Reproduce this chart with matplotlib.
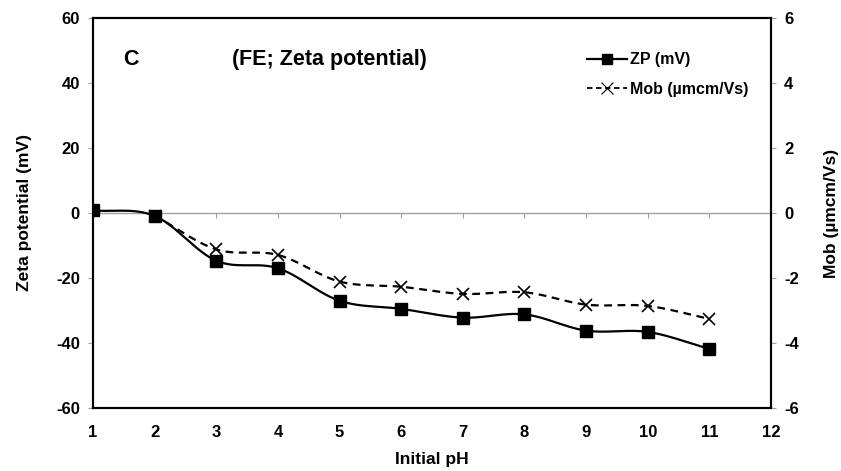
import numpy as np
import matplotlib
matplotlib.use("Agg")
import matplotlib.pyplot as plt
from matplotlib.lines import Line2D

plt.rcParams['font.family'] = ['Liberation Sans', 'DejaVu Sans']
plt.rcParams['font.weight'] = 'bold'
plt.rcParams['axes.unicode_minus'] = False

# initial pH vs zeta potential / electrophoretic mobility
ph_zp = [1, 2, 3, 4, 5, 6, 7, 8, 9, 10, 11]
zp_mv = [0.8, -0.9, -14.7, -17.0, -27.0, -29.5, -32.2, -31.2, -36.2, -36.6, -41.8]

ph_mob = [2, 3, 4, 5, 6, 7, 8, 9, 10, 11]
mob = [-0.08, -1.12, -1.29, -2.11, -2.27, -2.49, -2.44, -2.82, -2.86, -3.26]


def smooth(x, y, n=30):
    # Catmull-Rom style curve through every point (spreadsheet "smoothed line")
    x = np.asarray(x, float)
    y = np.asarray(y, float)
    px = np.concatenate([[2 * x[0] - x[1]], x, [2 * x[-1] - x[-2]]])
    py = np.concatenate([[2 * y[0] - y[1]], y, [2 * y[-1] - y[-2]]])
    xs, ys = [], []
    t = np.linspace(0, 1, n)
    for i in range(1, len(px) - 2):
        p0, p1, p2, p3 = [np.array([px[j], py[j]]) for j in range(i - 1, i + 3)]
        c1 = p1 + (p2 - p0) / 6
        c2 = p2 - (p3 - p1) / 6
        b = ((1 - t) ** 3)[:, None] * p1 + (3 * (1 - t) ** 2 * t)[:, None] * c1 \
            + (3 * (1 - t) * t ** 2)[:, None] * c2 + (t ** 3)[:, None] * p2
        xs.append(b[:, 0])
        ys.append(b[:, 1])
    return np.concatenate(xs), np.concatenate(ys)


fig = plt.figure(figsize=(8.41, 4.71), dpi=100)
ax = fig.add_axes([0.1106, 0.1338, 0.8062, 0.828])
ax2 = ax.twinx()

ax.set_xlim(1, 12)
ax.set_ylim(-60, 60)
ax2.set_ylim(-6, 6)

# zero line with category ticks hanging below it
ax.axhline(0, color='#a0a0a0', lw=1.0, zorder=1)
zero_axis = ax.secondary_xaxis(0.5)
zero_axis.spines['bottom'].set_visible(False)
zero_axis.spines['top'].set_visible(False)
zero_axis.set_xticks(range(1, 13))
zero_axis.xaxis.set_ticks_position('bottom')
zero_axis.tick_params(direction='out', length=3.5, color='#a0a0a0',
                      labelbottom=False, labeltop=False)

sx, sy = smooth(ph_zp, zp_mv)
ax.plot(sx, sy, color='black', lw=1.6, zorder=3)
ax.plot(ph_zp, zp_mv, ls='none', marker='s', ms=8.5, color='black', zorder=4)

mx, my = smooth(ph_mob, mob)
ax2.plot(mx, my, color='black', lw=1.6, ls=(0, (3.5, 2.5)), zorder=3)
ax2.plot(ph_mob, mob, ls='none', marker='x', ms=9, mew=1.2, color='black', zorder=4)

ax.set_xticks(range(1, 13))
ax.set_yticks(range(-60, 61, 20))
ax2.set_yticks(range(-6, 7, 2))
ax.tick_params(axis='x', length=0, pad=12, labelsize=12)
ax.tick_params(axis='y', direction='out', length=3.5, color='#a0a0a0', labelsize=12, pad=6)
ax2.tick_params(axis='y', direction='out', length=3.5, color='#a0a0a0', labelsize=12, pad=6)
for a in (ax, ax2):
    for sp in a.spines.values():
        sp.set_linewidth(1.5)
        sp.set_color('black')

ax.set_xlabel('Initial pH', fontsize=12.5, fontweight='bold', labelpad=9)
ax.set_ylabel('Zeta potential (mV)', fontsize=12.5, fontweight='bold', labelpad=17)
ax2.set_ylabel('Mob (µmcm/Vs)', fontsize=12.5, fontweight='bold', labelpad=18)

ax.text(1.49, 47.1, 'C', fontsize=15.5, fontweight='bold', va='center')
ax.text(3.25, 47.1, '(FE; Zeta potential)', fontsize=15.5, fontweight='bold', va='center')

handles = [
    Line2D([], [], color='black', lw=1.6, marker='s', ms=7.5),
    Line2D([], [], color='black', lw=1.3, ls=(0, (3, 2)), marker='x', ms=8, mew=0.8),
]
ax2.legend(handles, ['ZP (mV)', 'Mob (µmcm/Vs)'], loc='upper left',
           bbox_to_anchor=(0.728, 0.912), frameon=False, fontsize=11.5,
           borderpad=0, borderaxespad=0,
           handlelength=2.5, handletextpad=0.2, labelspacing=0.9)

fig.savefig('out.png', dpi=100)
